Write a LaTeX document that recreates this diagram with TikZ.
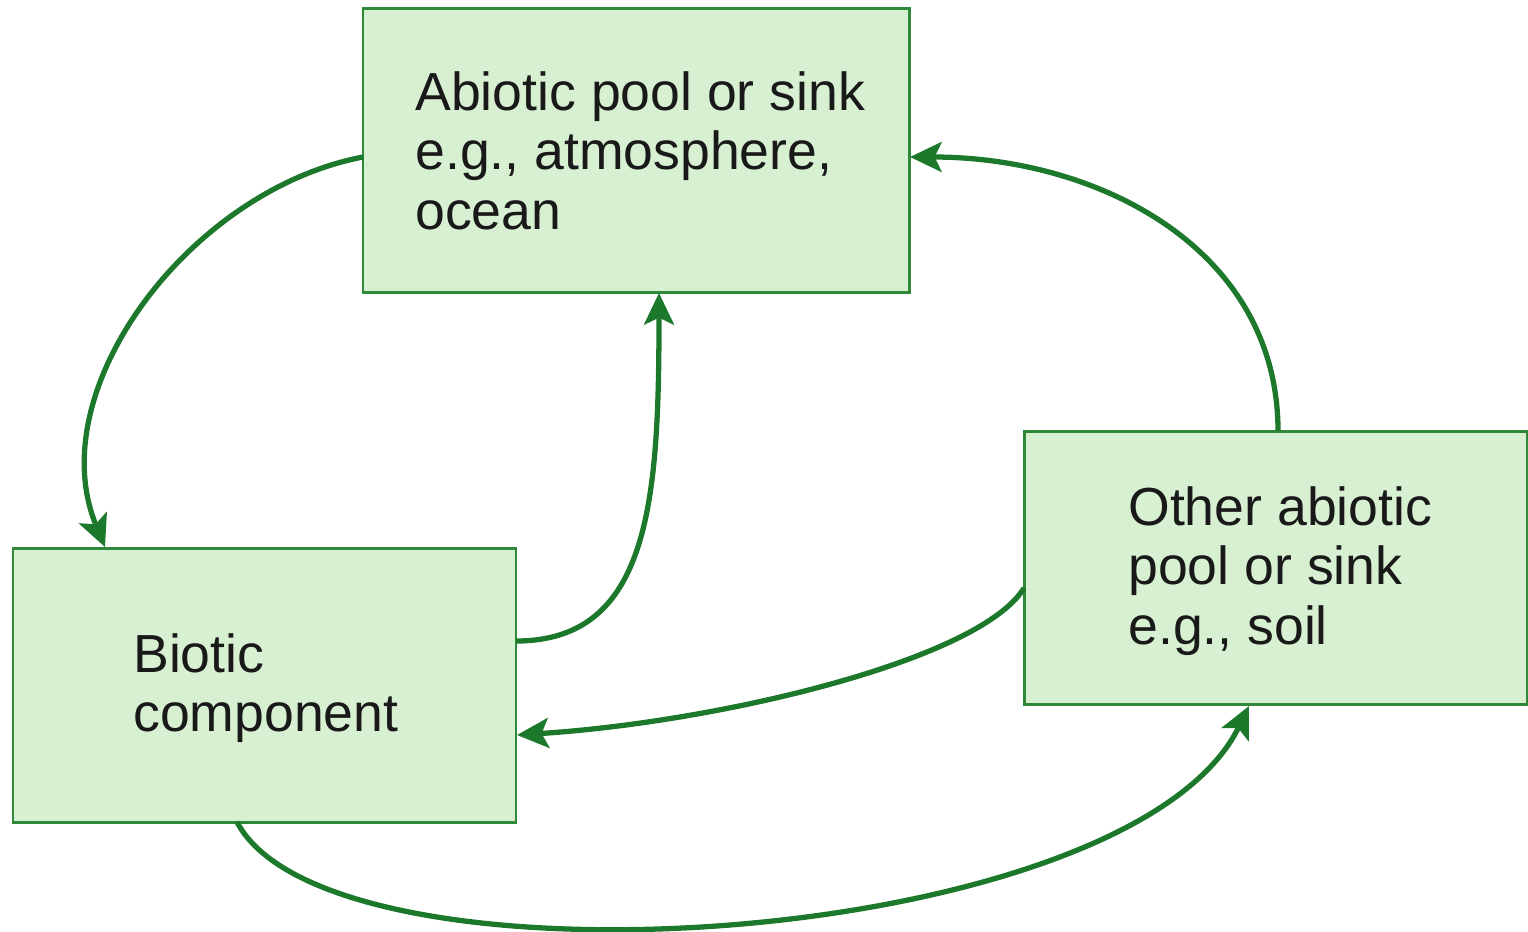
\documentclass[tikz,border=0pt]{standalone}
\usepackage{fontspec}
\setmainfont{Liberation Sans}
\usetikzlibrary{arrows.meta}
\definecolor{boxfill}{RGB}{216,240,210}
\definecolor{boxline}{RGB}{48,136,58}
\definecolor{arrowc}{RGB}{28,120,42}
\tikzset{
  pool/.style={draw=boxline, line width=1.7pt, fill=boxfill, anchor=north west, inner sep=0pt},
  label/.style={anchor=north west, align=left, font=\fontsize{30.5}{34}\selectfont, inner sep=0pt, text=black!90},
  flow/.style={draw=arrowc, line width=3pt, -{Stealth[length=18pt,width=17pt,inset=4pt]}}
}
\begin{document}
\begin{tikzpicture}[x=0.02cm,y=-0.02cm]
\useasboundingbox (0,0) rectangle (1528,931);
% boxes
\path[pool] (363,8) rectangle (909,292);
\path[pool] (13,548) rectangle (516,822);
\path[pool] (1024,431) rectangle (1527,704);
\node[label] (ta) at (415,71) {Abiotic pool or sink\\e.g., atmosphere,\\ocean};
\node[label] (tb) at (133,633) {Biotic\\component};
\node[label] (tc) at (1128,486) {Other abiotic\\pool or sink\\e.g., soil};
% anchor coordinates on box edges
\coordinate (aL) at (363,157);
\coordinate (aB) at (659,293);
\coordinate (aR) at (910,157);
\coordinate (bT) at (105,547);
\coordinate (bR1) at (516,641);
\coordinate (bR2) at (517,735);
\coordinate (bB) at (237,822);
\coordinate (cL) at (1024,588);
\coordinate (cB) at (1249,706);
\coordinate (cT) at (1278,431);
% connectors
\draw[flow] (aL) .. controls (190,190) and (40,390) .. (bT);
\draw[flow] (bR1) .. controls (650,641) and (659,500) .. (aB);
\draw[flow] (cL) .. controls (980,660) and (720,722) .. (bR2);
\draw[flow] (bB) .. controls (330,1000) and (1130,950) .. (cB);
\draw[flow] (cT) .. controls (1278,250) and (1100,157) .. (aR);
\end{tikzpicture}
\end{document}
